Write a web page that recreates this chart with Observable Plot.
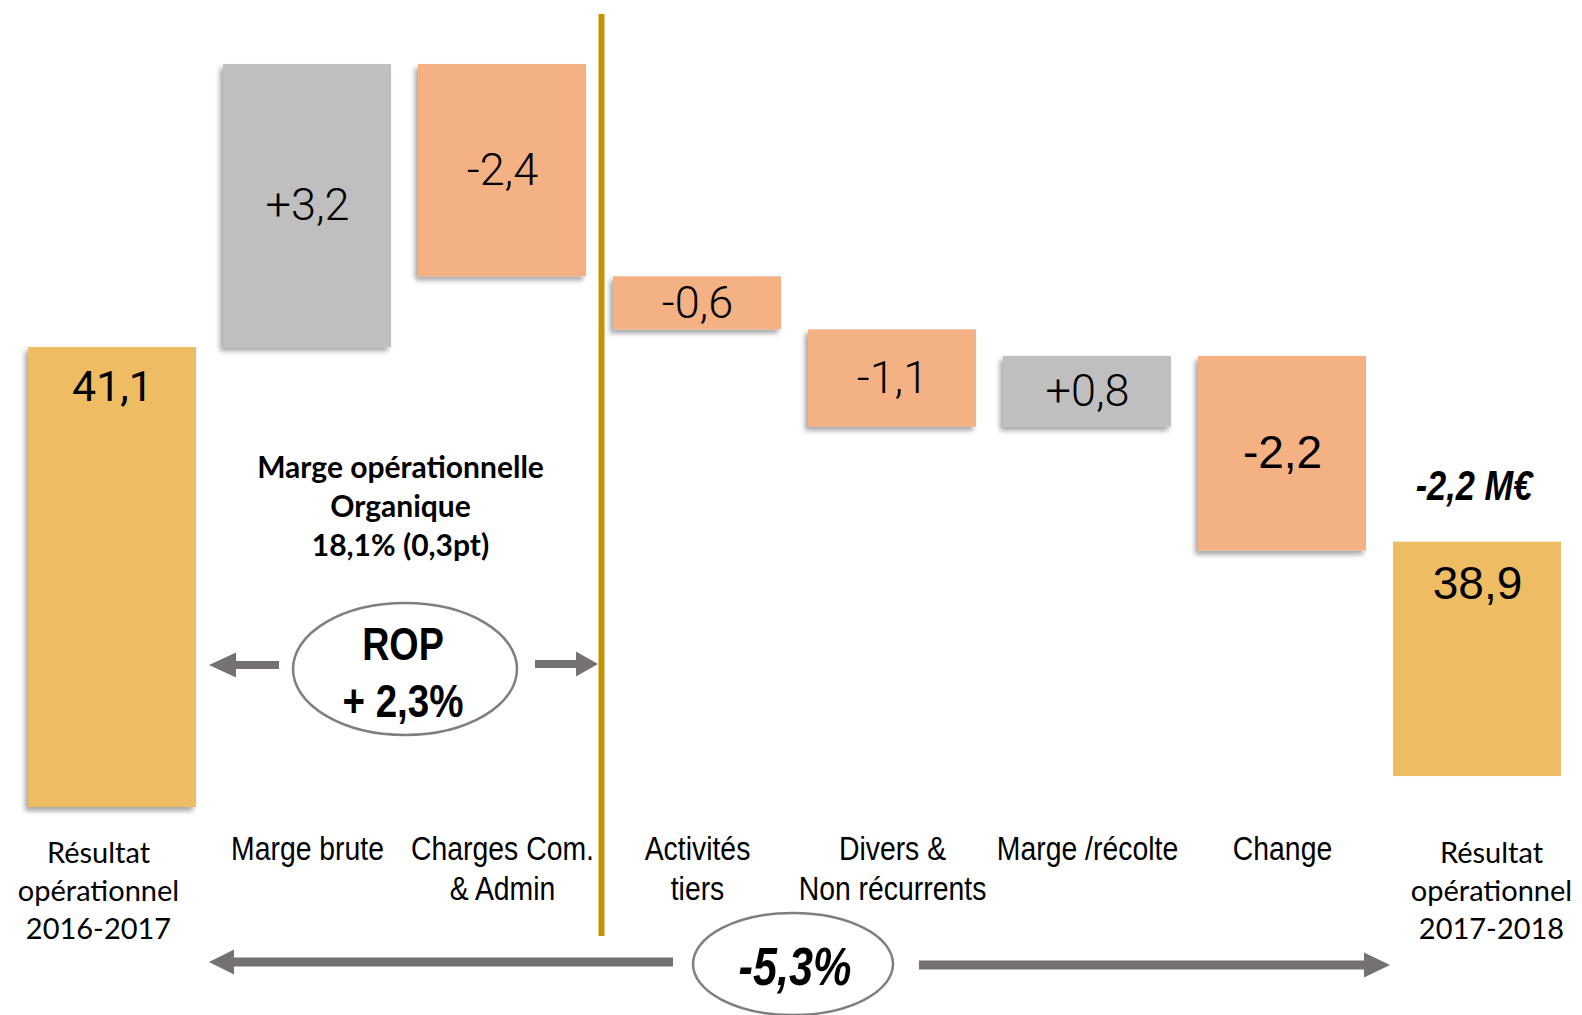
<!DOCTYPE html>
<html><head><meta charset="utf-8">
<script src="https://cdn.jsdelivr.net/npm/d3@7"></script>
<script src="https://cdn.jsdelivr.net/npm/@observablehq/plot@0.6"></script>
<style>
html,body{margin:0;padding:0;background:#fff;}
#chart svg{display:block;}
</style></head><body><div id="chart"></div>
<script>
// ---- data ----
const categories = [
  "Résultat\nopérationnel\n2016-2017",
  "Marge brute",
  "Charges Com.\n& Admin",
  "Activités\ntiers",
  "Divers &\nNon récurrents",
  "Marge /récolte",
  "Change",
  "Résultat\nopérationnel\n2017-2018"
];
const kinds = ["total", "delta", "delta", "delta", "delta", "delta", "delta", "total"];
const values = [41.1, 3.2, -2.4, -0.6, -1.1, 0.8, -2.2, 38.9];
// truncated (broken) value axis: visible base of each total bar
const totalBases = [35.9, 36.25];
const ropText = ["ROP", "+ 2,3%"];
const margeText = ["Marge opérationnelle", "Organique", "18,1% (0,3pt)"];
const totalChangeText = "-5,3%";
const deltaTotalText = "-2,2 M€";

// ---- build waterfall rows ----
const fmtNum = v => v.toFixed(1).replace(".", ",");
let run = 0, t = 0;
const rows = categories.map((cat, i) => {
  const v = values[i];
  let y1, y2;
  if (kinds[i] === "total") { y1 = totalBases[t++]; y2 = v; run = v; }
  else { y1 = run; y2 = run + v; run = y2; }
  const fill = kinds[i] === "total" ? "#EEBD63" : (v >= 0 ? "#BFBFBF" : "#F4B183");
  const label = kinds[i] === "total" ? fmtNum(v) : (v > 0 ? "+" : "") + fmtNum(v);
  return {cat, kind: kinds[i], i, v, y1, y2, fill, label};
});
const firstCat = categories[0];
const lastCat = categories[categories.length - 1];
const arialCats = new Set([categories[6], lastCat]);
const yMax = d3.max(rows, d => Math.max(d.y1, d.y2));
const yMin = d3.min(rows, d => Math.min(d.y1, d.y2));

const W = 1582, H = 1015;
const arial = "Liberation Sans";

const chart = Plot.plot({
  width: W, height: H,
  marginLeft: 7, marginRight: 0, marginTop: 64, marginBottom: 208,
  x: {domain: categories, paddingInner: 0.136, paddingOuter: 0.092, axis: null},
  y: {domain: [yMin, yMax], axis: null},
  color: {type: "identity"},
  marks: [
    Plot.barY(rows, {x: "cat", y1: "y1", y2: "y2", fill: "fill"}),
    // delta labels (centered in bars)
    Plot.text(rows.filter(d => d.kind === "delta" && !arialCats.has(d.cat)), {
      x: "cat", y: d => (d.y1 + d.y2) / 2, text: "label", fill: "#000",
      fontSize: 45, fontFamily: "Roboto", fontWeight: 300, lineAnchor: "middle"
    }),
    Plot.text(rows.filter(d => d.kind === "delta" && arialCats.has(d.cat)), {
      x: "cat", y: d => (d.y1 + d.y2) / 2, text: "label", fill: "#000",
      fontSize: 46, fontFamily: arial, lineAnchor: "middle"
    }),
    // total labels (near top)
    Plot.text(rows.filter(d => d.kind === "total" && !arialCats.has(d.cat)), {
      x: "cat", y: "y2", dy: 40, text: "label", fill: "#000",
      fontSize: 43, fontFamily: "Roboto", fontWeight: 400, lineAnchor: "middle"
    }),
    Plot.text(rows.filter(d => d.kind === "total" && arialCats.has(d.cat)), {
      x: "cat", y: "y2", dy: 42, text: "label", fill: "#000",
      fontSize: 46, fontFamily: arial, lineAnchor: "middle"
    }),
    // category axes
    Plot.axisX([firstCat], {
      anchor: "bottom", tickSize: 0, tickPadding: 29, label: null, dx: -14,
      fontSize: 29, fontFamily: "Lato", lineHeight: 1.31, fill: "#000"
    }),
    Plot.axisX([lastCat], {
      anchor: "bottom", tickSize: 0, tickPadding: 29, label: null, dx: 14,
      fontSize: 29, fontFamily: "Lato", lineHeight: 1.31, fill: "#000"
    }),
    Plot.axisX(categories.filter((c, i) => kinds[i] === "delta"), {
      anchor: "bottom", tickSize: 0, tickPadding: 24, label: null,
      fontSize: 33, fontFamily: arial, lineHeight: 1.22, fill: "#000"
    })
  ]
});

document.getElementById("chart").appendChild(chart);

// ---- decorations ----
const svg = d3.select(chart);
const xs = chart.scale("x");
const bw = xs.bandwidth;
const xStart = c => xs.apply(c);
const xMid = c => xs.apply(c) + bw / 2;

// condense a text element horizontally around its anchor
function condense(el, k) {
  const s = d3.select(el);
  let tr = s.attr("transform") || "";
  const x = s.attr("x");
  if (x != null && isFinite(+x)) {
    tr += ` translate(${+x},0)`;
    s.attr("x", null);
  }
  s.attr("transform", tr + ` scale(${k},1)`);
}
svg.selectAll(`g[font-family="${arial}"][aria-label="x-axis tick label"] text`).each(function () { condense(this, 0.86); });

const defs = svg.insert("defs", ":first-child");
const f = defs.append("filter").attr("id", "sh").attr("x", "-20%").attr("y", "-20%").attr("width", "140%").attr("height", "140%");
f.append("feDropShadow").attr("dx", -3).attr("dy", 4).attr("stdDeviation", 2.5)
  .attr("flood-color", "#000").attr("flood-opacity", 0.35);
const lastX = xStart(lastCat);
svg.selectAll('g[aria-label="bar"] rect').each(function () {
  const r = d3.select(this);
  if (+r.attr("x") < lastX - 1) r.attr("filter", "url(#sh)");
});

const g = svg.append("g");
// gold divider between Charges and Activités
const divX = (xStart(categories[2]) + bw + xStart(categories[3])) / 2 + 2;
g.append("line").attr("x1", divX).attr("x2", divX).attr("y1", 14).attr("y2", 936)
  .attr("stroke", "#C59300").attr("stroke-width", 6);

// "Marge opérationnelle" annotation
const annX = (xMid(categories[1]) + xMid(categories[2])) / 2 - 4;
margeText.forEach((s, i) => {
  g.append("text").attr("x", annX).attr("y", 478 + i * 39).attr("text-anchor", "middle")
    .attr("font-family", "Lato").attr("font-weight", 700).attr("font-size", 30).attr("fill", "#000").text(s);
});

const arrowColor = "#767171";
function arrow(x0, x1, y, shaft, headLen, headH) {
  const dir = Math.sign(x1 - x0);
  const hb = x1 - dir * headLen;
  const pts = [[x0, y - shaft / 2], [hb, y - shaft / 2], [hb, y - headH / 2], [x1, y], [hb, y + headH / 2], [hb, y + shaft / 2], [x0, y + shaft / 2]];
  g.append("path").attr("d", "M" + pts.map(p => p.join(",")).join("L") + "Z").attr("fill", arrowColor);
}
function narrowText(x, y, str, size, italic, k) {
  g.append("text").attr("transform", `translate(${x},${y}) scale(${k},1)`).attr("text-anchor", "middle")
    .attr("font-family", arial).attr("font-weight", 700).attr("font-style", italic ? "italic" : "normal")
    .attr("font-size", size).attr("fill", "#000").text(str);
}

// ROP ellipse
const ropX = 405;
g.append("ellipse").attr("cx", ropX).attr("cy", 669).attr("rx", 112).attr("ry", 66)
  .attr("fill", "#fff").attr("stroke", "#7F7F7F").attr("stroke-width", 2.5);
narrowText(ropX - 2, 660, ropText[0], 46, false, 0.82);
narrowText(ropX - 2, 717, ropText[1], 47, false, 0.82);
arrow(279, 209, 665, 8, 27, 25);
arrow(535, 598, 664, 8, 22, 25);

// bottom -5,3% ellipse and arrows
g.append("ellipse").attr("cx", 793).attr("cy", 964).attr("rx", 100).attr("ry", 51)
  .attr("fill", "#fff").attr("stroke", "#7F7F7F").attr("stroke-width", 2.5);
narrowText(795, 985, totalChangeText, 54, true, 0.8);
arrow(673, 209, 962, 9, 25, 25);
arrow(919, 1390, 965, 9, 26, 25);

// -2,2 M€ label above the final total
narrowText(xMid(lastCat) - 3, 500, deltaTotalText, 42, true, 0.82);
</script>
</body></html>
